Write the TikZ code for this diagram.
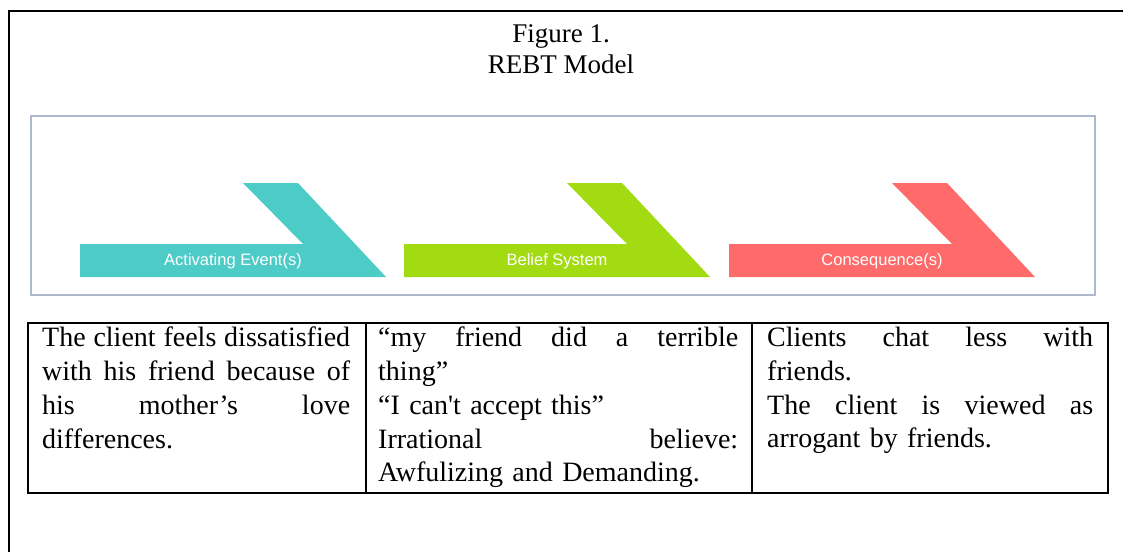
\documentclass[tikz,border=0pt]{standalone}
\usepackage{fontspec}
\setmainfont{Liberation Serif}
\setsansfont{Liberation Sans}

\definecolor{actcol}{HTML}{4DCBC7}
\definecolor{belcol}{HTML}{A3DB12}
\definecolor{concol}{HTML}{FF6A6A}
\definecolor{panelcol}{HTML}{AEB8CC}

\newcommand{\jline}[1]{\makebox[\hsize][s]{\spaceskip=0pt\xspaceskip=0pt\relax #1}}

\begin{document}
\begin{tikzpicture}[x=1pt,y=-1pt,
    cell/.style={anchor=north west,inner sep=0pt,align=left,
        font=\fontsize{28}{33.7}\selectfont},
    chevtext/.style={text=white,font=\sffamily\fontsize{16.5}{18}\selectfont}]
    \useasboundingbox (0,0) rectangle (1123,552);
    % page frame
    \draw[line width=2pt] (9,552) -- (9,11) -- (1123,11);
    \node[align=center,font=\fontsize{27}{31}\selectfont](title)at(561,49){Figure 1.\\REBT Model};
    % model picture
    \draw[panelcol,line width=2.5pt] (31,116) rectangle (1095,295);
    \foreach \x/\c/\t/\n in {80/actcol/Activating Event(s)/act,
                             404/belcol/Belief System/bel,
                             729/concol/Consequence(s)/con}{
        \fill[\c] (\x,244) -- ++(223,0) -- ++(-60,-61) -- ++(55,0)
                  -- ++(88,94) -- (\x,277) -- cycle;
        \node[chevtext](\n)at(\x+153,261){\t};
    }
    % table
    \draw[line width=2pt] (28,323) rectangle (1108,493);
    \draw[line width=2pt] (366,323) -- (366,493);
    \draw[line width=2pt] (752,323) -- (752,493);
    \node[cell,text width=308pt](cellA)at(42,327){%
        \jline{The client feels dissatisfied}\\
        \jline{with his friend because of}\\
        \jline{his mother’s love}\\
        differences.};
    \node[cell,text width=360pt](cellB)at(378,327){%
        \jline{“my friend did a terrible}\\
        thing”\\
        “I can\textquotesingle t accept this”\\
        \jline{Irrational believe:}\\
        Awfulizing and Demanding.};
    \node[cell,text width=326pt](cellC)at(767,327){%
        \jline{Clients chat less with}\\
        friends.\\
        \jline{The client is viewed as}\\
        arrogant by friends.};
\end{tikzpicture}
\end{document}
